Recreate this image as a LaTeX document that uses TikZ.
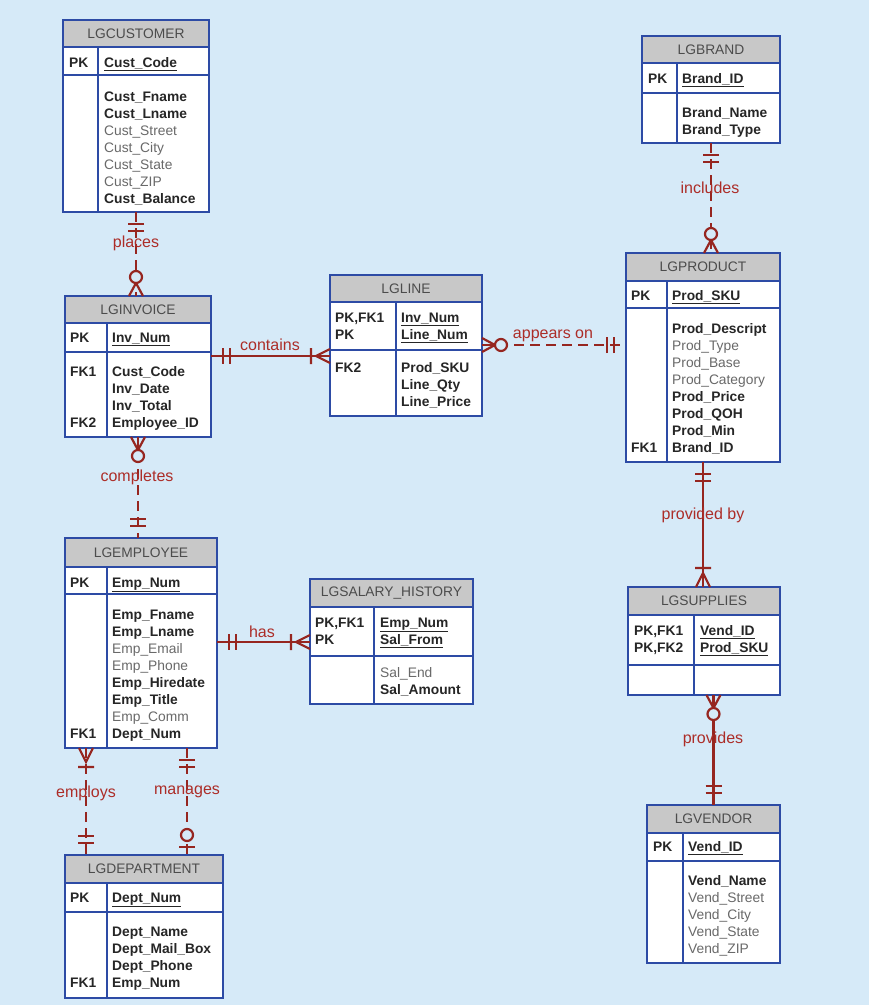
\documentclass[tikz,border=0pt]{standalone}
\usepackage{fontspec}
\setmainfont{Liberation Sans}
\usetikzlibrary{calc}
\definecolor{bgblue}{RGB}{214,234,248}
\definecolor{frameblue}{RGB}{45,75,165}
\definecolor{headgray}{RGB}{200,200,200}
\definecolor{relred}{RGB}{150,38,32}
\definecolor{lblred}{RGB}{172,45,40}
\definecolor{attrgray}{RGB}{105,105,105}
\tikzset{>=latex}
\tikzstyle{frame}=[rectangle,draw=frameblue,line width=1.8pt,inner sep=0,outer sep=0]
\tikzstyle{headtext}=[text=black!70,inner sep=0,font=\fontsize{13.8}{16}\selectfont]
\tikzstyle{keytxt}=[anchor=base west,inner sep=0,text=black!85,font=\fontsize{13.8}{17}\selectfont\bfseries]
\tikzstyle{attr}=[anchor=base west,inner sep=0,text=black!85,font=\fontsize{13.8}{17}\selectfont]
\tikzstyle{relline}=[draw=relred,line width=2.6pt]
\tikzstyle{reldash}=[relline,dash pattern=on 10pt off 6pt]
\tikzstyle{rellabel}=[text=lblred,inner sep=1pt,font=\fontsize{16}{18}\selectfont]
\tikzstyle{tick}=[draw=relred,line width=2.2pt]
\tikzset{
	mone/.pic={\draw[tick] (12,-8) -- (12,8) (19,-8) -- (19,8);},
	mmany/.pic={\draw[tick] (0,-7) -- (14,0) -- (0,7) (19,-8) -- (19,8);},
	zmany/.pic={\draw[tick] (0,-7) -- (13,0) -- (0,7); \draw[tick,fill=bgblue] (19,0) circle (6pt);},
	zone/.pic={\draw[tick] (8,-8) -- (8,8); \draw[tick,fill=bgblue] (20,0) circle (6pt);}
}

\begin{document}
\begin{tikzpicture}[x=1pt,y=-1pt]
	\def\bo#1{\textbf{#1}}
	\def\gr#1{\textcolor{attrgray}{#1}}
	\def\pk#1{\textbf{\underline{#1}}}
	% name, left, right, divider, top, head bottom, key bottom, bottom, title
	\def\erbox#1#2#3#4#5#6#7#8#9{
		\fill[white] (#2,#6) rectangle (#3,#8);
		\fill[headgray] (#2,#5) rectangle (#3,#6);
		\node[headtext] (#1-title) at ({(#2+#3)/2},{(#5+#6)/2}) {#9};
		\draw[draw=frameblue,line width=1.8pt] (#2,#6) -- (#3,#6) (#2,#7) -- (#3,#7) (#4,#6) -- (#4,#8);
		\node[frame,minimum width={#3pt-#2pt},minimum height={#8pt-#5pt}] (#1) at ({(#2+#3)/2},{(#5+#8)/2}) {};
	}

	\useasboundingbox (0,0) rectangle (869,1005);
	\fill[bgblue] (0,0) rectangle (869,1005);

	% entities
	\erbox{cust}{63}{209}{98}{20}{47}{75}{212}{LGCUSTOMER}
	\node[keytxt] (cust-k) at (69,67) {PK};
	\node[attr] (cust-id) at (104,67) {\pk{Cust\_Code}};
	\foreach \t [count=\i from 0] in {\bo{Cust\_Fname},\bo{Cust\_Lname},\gr{Cust\_Street},\gr{Cust\_City},\gr{Cust\_State},\gr{Cust\_ZIP},\bo{Cust\_Balance}}
		\node[attr] (cust-a\i) at (104,101+17*\i) {\t};

	\erbox{inv}{65}{211}{107}{296}{323}{352}{437}{LGINVOICE}
	\node[keytxt] (inv-k) at (70,342) {PK};
	\node[attr] (inv-id) at (112,342) {\pk{Inv\_Num}};
	\node[keytxt] (inv-fk1) at (70,376) {FK1};
	\node[keytxt] (inv-fk2) at (70,427) {FK2};
	\foreach \t [count=\i from 0] in {Cust\_Code,Inv\_Date,Inv\_Total,Employee\_ID}
		\node[attr] (inv-a\i) at (112,376+17*\i) {\bo{\t}};

	\erbox{line}{330}{482}{396}{275}{302}{350}{416}{LGLINE}
	\node[keytxt] (line-k1) at (335,322) {PK,FK1};
	\node[keytxt] (line-k2) at (335,339) {PK};
	\node[attr] (line-id1) at (401,322) {\pk{Inv\_Num}};
	\node[attr] (line-id2) at (401,339) {\pk{Line\_Num}};
	\node[keytxt] (line-fk2) at (335,372) {FK2};
	\foreach \t [count=\i from 0] in {Prod\_SKU,Line\_Qty,Line\_Price}
		\node[attr] (line-a\i) at (401,372+17*\i) {\bo{\t}};

	\erbox{brand}{642}{780}{677}{36}{63}{93}{143}{LGBRAND}
	\node[keytxt] (brand-k) at (648,83) {PK};
	\node[attr] (brand-id) at (682,83) {\pk{Brand\_ID}};
	\foreach \t [count=\i from 0] in {Brand\_Name,Brand\_Type}
		\node[attr] (brand-a\i) at (682,117+17*\i) {\bo{\t}};

	\erbox{prod}{626}{780}{667}{253}{281}{308}{462}{LGPRODUCT}
	\node[keytxt] (prod-k) at (631,300) {PK};
	\node[attr] (prod-id) at (672,300) {\pk{Prod\_SKU}};
	\node[keytxt] (prod-fk1) at (631,452) {FK1};
	\foreach \t [count=\i from 0] in {\bo{Prod\_Descript},\gr{Prod\_Type},\gr{Prod\_Base},\gr{Prod\_Category},\bo{Prod\_Price},\bo{Prod\_QOH},\bo{Prod\_Min},\bo{Brand\_ID}}
		\node[attr] (prod-a\i) at (672,333+17*\i) {\t};

	\erbox{sup}{628}{780}{694}{587}{615}{665}{695}{LGSUPPLIES}
	\node[keytxt] (sup-k1) at (634,635) {PK,FK1};
	\node[keytxt] (sup-k2) at (634,652) {PK,FK2};
	\node[attr] (sup-id1) at (700,635) {\pk{Vend\_ID}};
	\node[attr] (sup-id2) at (700,652) {\pk{Prod\_SKU}};

	\erbox{vend}{647}{780}{683}{805}{833}{861}{963}{LGVENDOR}
	\node[keytxt] (vend-k) at (653,851) {PK};
	\node[attr] (vend-id) at (688,851) {\pk{Vend\_ID}};
	\foreach \t [count=\i from 0] in {\bo{Vend\_Name},\gr{Vend\_Street},\gr{Vend\_City},\gr{Vend\_State},\gr{Vend\_ZIP}}
		\node[attr] (vend-a\i) at (688,885+17*\i) {\t};

	\erbox{emp}{65}{217}{107}{538}{567}{594}{748}{LGEMPLOYEE}
	\node[keytxt] (emp-k) at (70,587) {PK};
	\node[attr] (emp-id) at (112,587) {\pk{Emp\_Num}};
	\node[keytxt] (emp-fk1) at (70,738) {FK1};
	\foreach \t [count=\i from 0] in {\bo{Emp\_Fname},\bo{Emp\_Lname},\gr{Emp\_Email},\gr{Emp\_Phone},\bo{Emp\_Hiredate},\bo{Emp\_Title},\gr{Emp\_Comm},\bo{Dept\_Num}}
		\node[attr] (emp-a\i) at (112,619+17*\i) {\t};

	\erbox{sal}{310}{473}{374}{579}{607}{656}{704}{LGSALARY\_HISTORY}
	\node[keytxt] (sal-k1) at (315,627) {PK,FK1};
	\node[keytxt] (sal-k2) at (315,644) {PK};
	\node[attr] (sal-id1) at (380,627) {\pk{Emp\_Num}};
	\node[attr] (sal-id2) at (380,644) {\pk{Sal\_From}};
	\node[attr] (sal-a0) at (380,677) {\gr{Sal\_End}};
	\node[attr] (sal-a1) at (380,694) {\bo{Sal\_Amount}};

	\erbox{dept}{65}{223}{107}{855}{883}{912}{998}{LGDEPARTMENT}
	\node[keytxt] (dept-k) at (70,902) {PK};
	\node[attr] (dept-id) at (112,902) {\pk{Dept\_Num}};
	\node[keytxt] (dept-fk1) at (70,987) {FK1};
	\foreach \t [count=\i from 0] in {Dept\_Name,Dept\_Mail\_Box,Dept\_Phone,Emp\_Num}
		\node[attr] (dept-a\i) at (112,936+17*\i) {\bo{\t}};

	% relationships
	\coordinate (contains-y) at (0,356);
	\coordinate (appears-y) at (0,345);
	\coordinate (has-y) at (0,642);
	\coordinate (employs-x) at (86,0);
	\coordinate (manages-x) at (187,0);

	\draw[reldash] (cust.south) -- (cust.south |- inv.north);
	\pic[rotate=-90] at (cust.south) {mone};
	\pic[rotate=90] at (cust.south |- inv.north) {zmany};

	\draw[relline] (inv.east |- contains-y) -- (line.west |- contains-y);
	\pic at (inv.east |- contains-y) {mone};
	\pic[rotate=180] at (line.west |- contains-y) {mmany};

	\draw[reldash] (line.east |- appears-y) -- (prod.west |- appears-y);
	\pic at (line.east |- appears-y) {zmany};
	\pic[rotate=180] at (prod.west |- appears-y) {mone};

	\draw[reldash] (brand.south) -- (brand.south |- prod.north);
	\pic[rotate=-90] at (brand.south) {mone};
	\pic[rotate=90] at (brand.south |- prod.north) {zmany};

	\draw[relline] (prod.south) -- (prod.south |- sup.north);
	\pic[rotate=-90] at (prod.south) {mone};
	\pic[rotate=90] at (prod.south |- sup.north) {mmany};

	\draw[relline] (vend.north |- sup.south) -- (vend.north);
	\pic[rotate=-90] at (vend.north |- sup.south) {zmany};
	\pic[rotate=90] at (vend.north) {mone};

	\draw[reldash] (inv.south) -- (inv.south |- emp.north);
	\pic[rotate=-90] at (inv.south) {zmany};
	\pic[rotate=90] at (inv.south |- emp.north) {mone};

	\draw[relline] (emp.east |- has-y) -- (sal.west |- has-y);
	\pic at (emp.east |- has-y) {mone};
	\pic[rotate=180] at (sal.west |- has-y) {mmany};

	\draw[reldash] (emp.south -| employs-x) -- (dept.north -| employs-x);
	\pic[rotate=-90] at (emp.south -| employs-x) {mmany};
	\pic[rotate=90] at (dept.north -| employs-x) {mone};

	\draw[reldash] (emp.south -| manages-x) -- (dept.north -| manages-x);
	\pic[rotate=-90] at (emp.south -| manages-x) {mone};
	\pic[rotate=90] at (dept.north -| manages-x) {zone};

	% labels
	\node[rellabel] (lbl-places) at (136,243) {places};
	\node[rellabel] (lbl-contains) at (270,345) {contains};
	\node[rellabel] (lbl-appears) at (553,336) {appears on};
	\node[rellabel] (lbl-includes) at (710,188) {includes};
	\node[rellabel] (lbl-provided) at (703,515) {provided by};
	\node[rellabel] (lbl-provides) at (713,739) {provides};
	\node[rellabel] (lbl-completes) at (137,477) {completes};
	\node[rellabel] (lbl-has) at (262,632) {has};
	\node[rellabel] (lbl-employs) at (86,793) {employs};
	\node[rellabel] (lbl-manages) at (187,792) {manages};
\end{tikzpicture}
\end{document}
